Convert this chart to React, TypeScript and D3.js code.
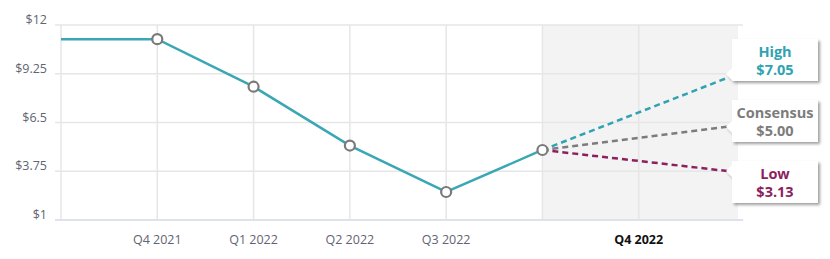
import React from "react";
import * as d3 from "d3";

// Quarterly price history and analyst targets
const categories = ["", "Q4 2021", "Q1 2022", "Q2 2022", "Q3 2022", "", "Q4 2022", ""];
const history = [11.2, 11.2, 8.52, 5.2, 2.58, 4.95];
const markerIndexes = [1, 2, 3, 4, 5];
const yTicks = [1, 3.75, 6.5, 9.25, 12];
const targetNames = ["High", "Consensus", "Low"];
const targetValues = [7.05, 5.0, 3.13];
const targetColors = ["#2fa3b1", "#7c7c7c", "#8c1f5e"];

const W = 830;
const H = 259;
const FONT = "'Open Sans', Lato, sans-serif";

export default function App() {
  const x = d3.scalePoint<number>().domain(d3.range(categories.length)).range([61, 735]);
  const y = d3.scaleLinear().domain([1, 12]).range([220, 25]);
  const plotRight = 743;
  const shadeRight = 738;

  const line = d3
    .line<number>()
    .x((_, i) => x(i)!)
    .y((d) => y(d));

  // Callout layout: arrows sit on a spread scale between low and high target
  const lo = d3.min(targetValues)!;
  const hi = d3.max(targetValues)!;
  const arrowY = d3.scaleLinear().domain([lo, hi]).range([171, 78]);
  const boxW = 86;
  const boxH = 42;
  const boxX = 732;
  const lastI = history.length - 1;
  const x0 = x(lastI)!;
  const y0 = y(history[lastI]);
  const lineEndX = boxX - 5;

  return (
    <svg width={W} height={H} style={{ position: "absolute", left: 0, top: 0 }}>
      <defs>
        <filter id="shadow" x="-20%" y="-20%" width="150%" height="160%">
          <feDropShadow dx="2" dy="2" stdDeviation="1.6" floodColor="#000" floodOpacity="0.38" />
        </filter>
      </defs>
      <rect width={W} height={H} fill="#fff" />
      {/* forecast zone */}
      <rect x={x(5)} y={y(12)} width={shadeRight - x(5)!} height={y(1) - y(12)} fill="#f3f3f3" />
      {/* horizontal grid */}
      {yTicks.map((t) => (
        <line key={t} x1={55} x2={plotRight} y1={y(t)} y2={y(t)} stroke="#e6e6e6" strokeWidth={1.5} />
      ))}
      {/* vertical grid */}
      {d3.range(0, 7).map((i) => (
        <line key={i} x1={x(i)} x2={x(i)} y1={y(12)} y2={y(1)} stroke="#e6e6e6" strokeWidth={1.5} />
      ))}
      <line x1={55} x2={plotRight} y1={y(1)} y2={y(1)} stroke="#dde3ee" strokeWidth={2} />
      {/* y labels */}
      {yTicks.map((t) => (
        <text key={t} x={47} y={y(t) - 1} textAnchor="end" fontFamily={FONT} fontSize={12.5} fill="#5f6470">
          {"$" + t}
        </text>
      ))}
      {/* x labels */}
      {categories.map((c, i) =>
        c ? (
          <text
            key={i}
            x={x(i)}
            y={244}
            textAnchor="middle"
            fontFamily={FONT}
            fontSize={12.5}
            fontWeight={c === "Q4 2022" ? 700 : 400}
            fill={c === "Q4 2022" ? "#111" : "#5f6470"}
          >
            {c}
          </text>
        ) : null
      )}
      {/* forecast lines */}
      {targetValues.map((v, i) => (
        <line
          key={i}
          x1={x0}
          y1={y0}
          x2={lineEndX}
          y2={arrowY(v)}
          stroke={targetColors[i]}
          strokeWidth={2.5}
          strokeDasharray="6,4"
        />
      ))}
      {/* history line */}
      <path d={line(history) || ""} fill="none" stroke="#3aa7b4" strokeWidth={2.5} />
      {markerIndexes.map((i) => (
        <circle key={i} cx={x(i)} cy={y(history[i])} r={5} fill="#fff" stroke="#7a7a7a" strokeWidth={2.2} />
      ))}
      {/* callouts */}
      {targetValues.map((v, i) => {
        const ay = arrowY(v);
        const cy = 60 + i * 61;
        const top = cy - boxH / 2;
        const tipY = Math.max(top + 7, Math.min(top + boxH - 7, ay));
        const path = `M${boxX},${top} H${boxX + boxW} V${top + boxH} H${boxX} V${tipY + 6} L${boxX - 6},${tipY} L${boxX},${tipY - 6} Z`;
        return (
          <g key={i}>
            <path d={path} fill="#fff" filter="url(#shadow)" />
            <text
              x={boxX + boxW / 2}
              y={top + 17.5}
              textAnchor="middle"
              fontFamily={FONT}
              fontSize={14.5}
              fontWeight={700}
              fill={targetColors[i]}
            >
              {targetNames[i]}
            </text>
            <text
              x={boxX + boxW / 2}
              y={top + 35.5}
              textAnchor="middle"
              fontFamily={FONT}
              fontSize={14.5}
              fontWeight={700}
              fill={targetColors[i]}
            >
              {"$" + v.toFixed(2)}
            </text>
          </g>
        );
      })}
    </svg>
  );
}
